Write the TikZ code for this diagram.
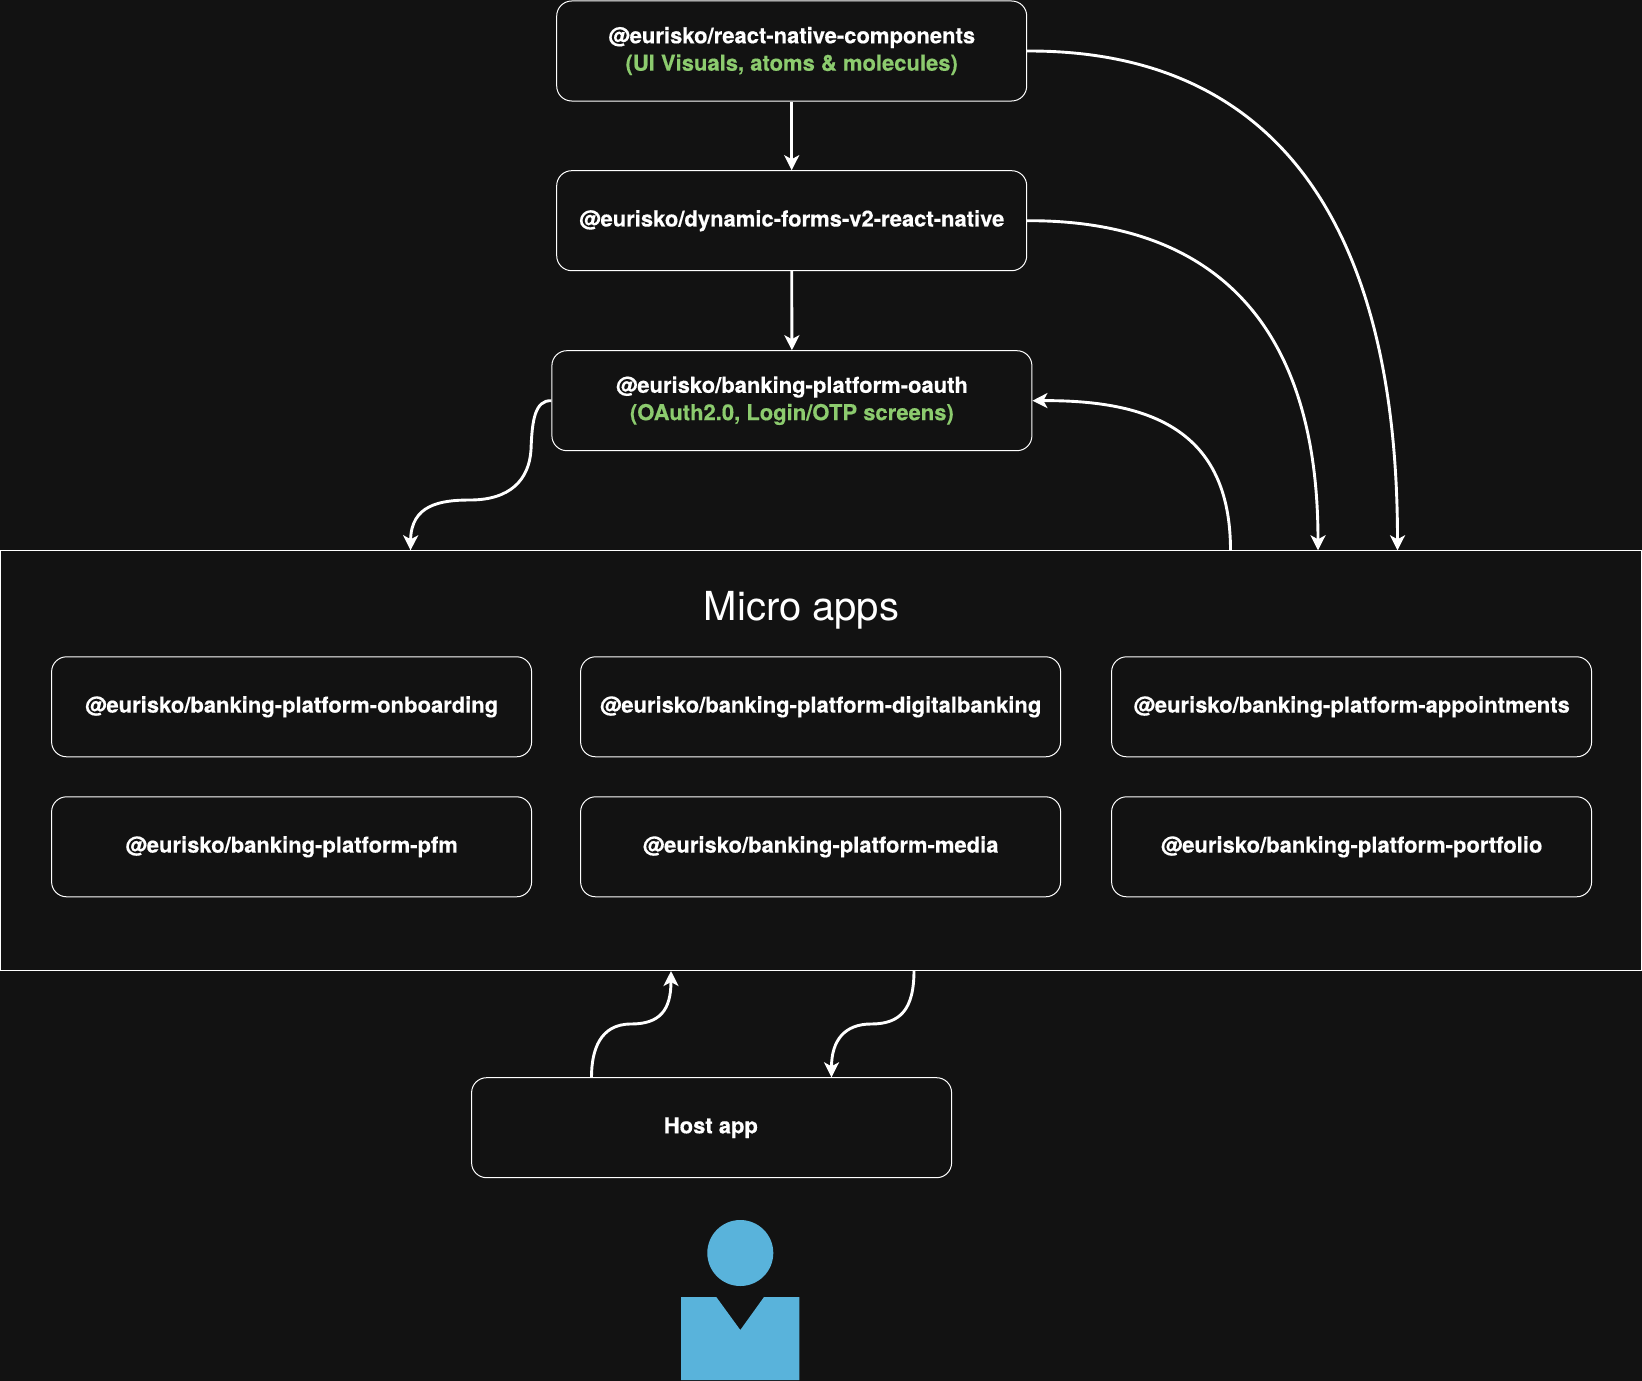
\documentclass[tikz,border=0pt]{standalone}
\usepackage{fontspec}
\setmainfont{TeX Gyre Heros}[BoldFeatures={FakeBold=0.4}]
\usetikzlibrary{arrows.meta}
\definecolor{bgc}{HTML}{121212}
\definecolor{grn}{HTML}{8CCB6E}
\definecolor{blu}{HTML}{59B3DB}
\newcommand{\lowered}[2]{\raisebox{-#1pt}{#2}}
\tikzset{
  x=1pt,y=-1pt,
  pkg/.style={draw=white,line width=1pt,rounded corners=15pt,fill=bgc,minimum width=480pt,minimum height=100pt,inner sep=0pt,text=white,align=center,font=\fontsize{22}{27.4}\selectfont\bfseries,anchor=north west},
  frame/.style={draw=white,line width=1pt,fill=bgc,minimum width=1640.5pt,minimum height=420pt,inner sep=0pt,anchor=north west},
  link/.style={draw=white,line width=2.9pt,-{Stealth[length=15pt,width=15pt,inset=4pt]}},
}
\begin{document}
\begin{tikzpicture}
\useasboundingbox (0,0) rectangle (1642,1381);
\fill[bgc] (0,0) rectangle (1642,1381);
\node[frame] (micro) at (0.2,550.1) {};
\node[font=\fontsize{40}{48}\selectfont,text=white] (title) at (801.5,610) {Micro apps};
\node[pkg,minimum width=470pt] (rn) at (556.2,0.5) {\lowered{1}{@eurisko/react-native-components}\\[0pt]\lowered{1}{\color{grn}(UI Visuals, atoms \& molecules)}};
\node[pkg,minimum width=470pt] (forms) at (556.2,170.2) {\lowered{-1.5}{@eurisko/dynamic-forms-v2-react-native}};
\node[pkg] (oauth) at (551.4,350.2) {\lowered{1}{@eurisko/banking-platform-oauth}\\[0pt]\lowered{1}{\color{grn}(OAuth2.0, Login/OTP screens)}};
\node[pkg] (onb) at (51.1,656.3) {\lowered{2}{@eurisko/banking-platform-onboarding}};
\node[pkg] (dig) at (580.1,656.3) {\lowered{2}{@eurisko/banking-platform-digitalbanking}};
\node[pkg] (app) at (1111.1,656.3) {\lowered{2}{@eurisko/banking-platform-appointments}};
\node[pkg] (pfm) at (51.1,796.3) {\lowered{1}{@eurisko/banking-platform-pfm}};
\node[pkg] (med) at (580.1,796.3) {\lowered{1}{@eurisko/banking-platform-media}};
\node[pkg] (por) at (1111.1,796.3) {\lowered{1}{@eurisko/banking-platform-portfolio}};
\node[pkg] (host) at (471.1,1077.2) {\kern-1.5pt\lowered{2}{Host app}};
\fill[blu] (740.3,1253) circle (33);
\fill[blu] (681,1297) -- (716.3,1297) -- (740.3,1330) -- (764,1297) -- (799.3,1297) -- (799.3,1380) -- (681,1380) -- cycle;
\draw[link] (rn.south) -- (forms.north);
\draw[link] (forms.south) -- (oauth.north);
\coordinate (m1) at (410.5,550.3);
\coordinate (m2) at (1318,550.3);
\coordinate (m3) at (1397.5,550.3);
\coordinate (m4) at (1230.5,550.3);
\coordinate (m5) at (671,971);
\coordinate (m6) at (914,970.3);
\coordinate (h1) at (591.5,1077.3);
\coordinate (h2) at (831.5,1077.3);
\draw[link] (rn.east) .. controls (1280,50) and (1397.5,230) .. (m3);
\draw[link] (forms.east) .. controls (1210,220) and (1318,320) .. (m2);
\draw[link] (m4) .. controls (1230.5,430) and (1150,400) .. (oauth.east);
\draw[link] (oauth.west) .. controls (535,400) and (532,420) .. (531,450) .. controls (529,480) and (510,500) .. (470,500) .. controls (440,500) and (411,505) .. (m1);
\draw[link] (h1) .. controls (591.5,1050) and (600,1024) .. (631,1024) .. controls (660,1024) and (671,1010) .. (m5);
\draw[link] (m6) .. controls (914,1010) and (900,1024) .. (871,1024) .. controls (845,1024) and (831.5,1040) .. (h2);
\end{tikzpicture}
\end{document}
